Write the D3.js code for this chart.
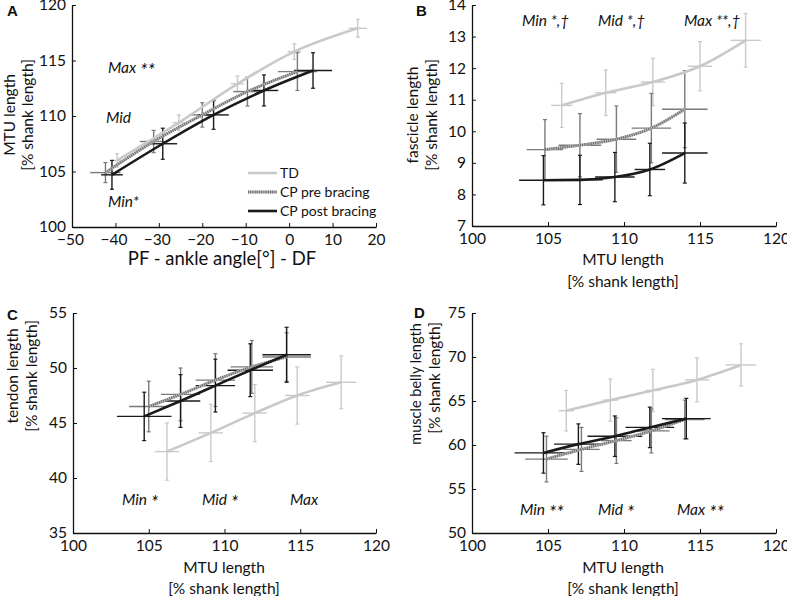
<!DOCTYPE html>
<html><head><meta charset="utf-8">
<script src="https://cdn.jsdelivr.net/npm/d3@7"></script>
<style>
body{margin:0;background:#fff}
svg{display:block}
text{font-family:Lato,"Open Sans",sans-serif;fill:#111}
</style>
</head><body>
<svg id="c" width="787" height="596"></svg>
<script>
// ---------- DATA ----------
const groups = ["TD", "CP pre bracing", "CP post bracing"];

// Panel A: x = ankle angle, y = MTU length
const A_TD_x = [-39.6, -25.4, -11.9, 1.2, 15.8];
const A_TD_y = [106.0, 109.4, 112.9, 115.8, 117.9];
const A_TD_xe = [1.2, 1.4, 1.5, 1.6, 2.1];
const A_TD_ye = [0.6, 0.7, 0.7, 0.7, 0.8];
const A_PRE_x = [-42.3, -31.2, -20.0, -9.6, 1.9];
const A_PRE_y = [104.9, 107.7, 110.1, 112.2, 114.0];
const A_PRE_xe = [3.5, 3.2, 3.0, 3.3, 4.5];
const A_PRE_ye = [0.9, 1.0, 1.1, 1.3, 1.7];
const A_POST_x = [-40.8, -29.1, -17.4, -5.8, 5.5];
const A_POST_y = [104.7, 107.5, 110.1, 112.3, 114.1];
const A_POST_xe = [2.5, 3.3, 3.5, 3.3, 4.4];
const A_POST_ye = [1.3, 1.4, 1.3, 1.4, 1.6];

// Panel B: fascicle length
const B_TD_x = [105.9, 108.8, 111.9, 115.0, 118.0];
const B_TD_y = [10.82, 11.22, 11.56, 12.06, 12.88];
const B_TD_xe = [0.7, 0.7, 0.8, 0.8, 1.0];
const B_TD_ye = [0.70, 0.72, 0.75, 0.78, 0.85];
const B_PRE_x = [104.8, 107.1, 109.5, 111.8, 114.0];
const B_PRE_y = [9.42, 9.56, 9.75, 10.10, 10.70];
const B_PRE_xe = [1.2, 1.4, 1.3, 1.3, 1.5];
const B_PRE_ye = [0.95, 1.00, 1.05, 1.10, 1.22];
const B_POST_x = [104.7, 107.1, 109.4, 111.7, 114.0];
const B_POST_y = [8.45, 8.46, 8.55, 8.79, 9.31];
const B_POST_xe = [1.6, 1.5, 1.3, 1.0, 1.5];
const B_POST_ye = [0.78, 0.78, 0.78, 0.83, 0.95];

// Panel C: tendon length
const C_TD_x = [106.2, 109.1, 112.0, 114.8, 117.7];
const C_TD_y = [42.4, 44.1, 45.9, 47.5, 48.7];
const C_TD_xe = [0.8, 0.8, 0.8, 0.8, 1.0];
const C_TD_ye = [2.6, 2.6, 2.6, 2.6, 2.4];
const C_PRE_x = [105.0, 107.1, 109.4, 111.8, 114.1];
const C_PRE_y = [46.5, 47.6, 48.9, 50.1, 51.0];
const C_PRE_xe = [1.3, 1.3, 1.3, 1.4, 1.6];
const C_PRE_ye = [2.3, 2.4, 2.4, 2.4, 2.2];
const C_POST_x = [104.7, 107.1, 109.4, 111.7, 114.1];
const C_POST_y = [45.6, 47.0, 48.4, 49.8, 51.2];
const C_POST_xe = [1.8, 1.3, 1.3, 1.5, 1.6];
const C_POST_ye = [2.2, 2.4, 2.4, 2.4, 2.5];

// Panel D: muscle belly length
const D_TD_x = [106.2, 109.1, 111.9, 114.8, 117.7];
const D_TD_y = [63.9, 65.1, 66.2, 67.4, 69.1];
const D_TD_xe = [0.5, 0.5, 0.5, 0.8, 1.0];
const D_TD_ye = [2.3, 2.4, 2.4, 2.5, 2.4];
const D_PRE_x = [104.9, 107.2, 109.5, 111.8, 114.0];
const D_PRE_y = [58.4, 59.5, 60.5, 61.6, 62.9];
const D_PRE_xe = [1.4, 1.2, 1.0, 1.2, 1.3];
const D_PRE_ye = [2.6, 2.5, 2.6, 2.5, 2.2];
const D_POST_x = [104.7, 107.0, 109.4, 111.7, 114.1];
const D_POST_y = [59.1, 60.1, 61.0, 62.0, 63.0];
const D_POST_xe = [1.9, 1.6, 1.8, 1.6, 1.6];
const D_POST_ye = [2.3, 2.3, 2.3, 2.3, 2.3];

// Tick labels
const A_xticks = [-50, -40, -30, -20, -10, 0, 10, 20];
const A_yticks = [100, 105, 110, 115, 120];
const B_yticks = [7, 8, 9, 10, 11, 12, 13, 14];
const C_yticks = [35, 40, 45, 50, 55];
const D_yticks = [50, 55, 60, 65, 70, 75];
const MTU_xticks = [100, 105, 110, 115, 120];

// Significance annotations
const A_notes = ["Max **", "Mid", "Min*"];
const B_notes = ["Min *,\u2020", "Mid *,\u2020", "Max **,\u2020"];
const C_notes = ["Min *", "Mid *", "Max"];
const D_notes = ["Min **", "Mid *", "Max **"];

// ---------- DRAW ----------
const svg = d3.select("#c");
const COL = {TD: "#c9c9c9", PRE: "#7a7a7a", POST: "#1a1a1a"};

function zip(x, y, xe, ye){ return x.map((v,i)=>({x:v, y:y[i], xe:xe[i], ye:ye[i]})); }

function panel(cfg){
  const g = svg.append("g");
  const xs = d3.scaleLinear().domain(cfg.xdom).range([cfg.left, cfg.right]);
  const ys = d3.scaleLinear().domain(cfg.ydom).range([cfg.bottom, cfg.top]);

  const xa = d3.axisBottom(xs).tickValues(cfg.xticks).tickFormat(d3.format("d")).tickSizeInner(-4).tickSizeOuter(0).tickPadding(6);
  const ya = d3.axisLeft(ys).tickValues(cfg.yticks).tickFormat(d3.format("d")).tickSizeInner(-4).tickSizeOuter(0).tickPadding(6);
  const gx = g.append("g").attr("transform", `translate(0,${cfg.bottom})`).call(xa);
  const gy = g.append("g").attr("transform", `translate(${cfg.left},0)`).call(ya);
  [gx, gy].forEach(a=>{
    a.select(".domain").attr("stroke", "#111").attr("stroke-width", 1.3);
    a.selectAll(".tick line").attr("stroke", "#111").attr("stroke-width", 1);
    a.selectAll(".tick text").style("font-family","Lato,'Open Sans',sans-serif").style("font-size","15.5px").attr("fill","#111");
  });
  gx.selectAll(".tick text").attr("dy","0.78em");
  gx.selectAll(".tick text").attr("x", d => d < 0 ? -2 : 0);

  const series = [
    {key:"TD", data: cfg.td},
    {key:"PRE", data: cfg.pre},
    {key:"POST", data: cfg.post}
  ];
  const line = d3.line().x(d=>xs(d.x)).y(d=>ys(d.y)).curve(d3.curveMonotoneX);
  series.forEach(s=>{
    const eg = g.append("g");
    const col = COL[s.key];
    const ew = 1.4;
    s.data.forEach(d=>{
      eg.append("line").attr("x1", xs(d.x-d.xe)).attr("x2", xs(d.x+d.xe))
        .attr("y1", ys(d.y)).attr("y2", ys(d.y)).attr("stroke", col).attr("stroke-width", ew);
      eg.append("line").attr("x1", xs(d.x)).attr("x2", xs(d.x))
        .attr("y1", ys(d.y-d.ye)).attr("y2", ys(d.y+d.ye)).attr("stroke", col).attr("stroke-width", ew);
      [d.y-d.ye, d.y+d.ye].forEach(v=>{
        eg.append("line").attr("x1", xs(d.x)-2).attr("x2", xs(d.x)+2)
          .attr("y1", ys(v)).attr("y2", ys(v)).attr("stroke", col).attr("stroke-width", 1.2);
      });
    });
  });
  series.forEach(s=>{
    if (s.key==="TD") {
      g.append("path").datum(s.data).attr("d", line).attr("fill","none").attr("stroke", COL.TD).attr("stroke-width", 2.6);
    } else if (s.key==="PRE") {
      g.append("path").datum(s.data).attr("d", line).attr("fill","none").attr("stroke", "#b8b8b8").attr("stroke-width", 2.8);
      g.append("path").datum(s.data).attr("d", line).attr("fill","none").attr("stroke", "#6a6a6a").attr("stroke-width", 2.8).attr("stroke-dasharray","1,1.2");
    } else {
      g.append("path").datum(s.data).attr("d", line).attr("fill","none").attr("stroke", COL.POST).attr("stroke-width", 2.6);
    }
  });

  g.append("text").attr("x", cfg.letterX).attr("y", cfg.letterY).text(cfg.letter)
    .style("font-family","Arial,'Liberation Sans',sans-serif").style("font-weight","bold").style("font-size","15px");

  cfg.ylabel.forEach((t,i)=>{
    g.append("text").attr("transform", `translate(${cfg.ylabX[i]},${cfg.ylabY[i]}) rotate(-90)`)
      .attr("text-anchor","middle").style("font-size", cfg.ylabSize[i]).text(t);
  });
  cfg.xlabel.forEach((t,i)=>{
    g.append("text").attr("x", cfg.xlabX).attr("y", cfg.xlabY[i]).attr("text-anchor","middle")
      .style("font-size", cfg.xlabSize).text(t);
  });
  cfg.notes.forEach((t,i)=>{
    const tx = g.append("text").attr("x", cfg.noteX[i]).attr("y", cfg.noteY[i]).style("font-style","italic")
      .style("font-size","15.5px");
    const m = t.match(/^(\S+)(\s*)(.*)$/);
    tx.append("tspan").text(m[1] + m[2]);
    if (m[3]) {
      if (cfg.bigStars) {
        tx.append("tspan").style("font-size","19px").attr("dy","4").text(m[3]);
      } else {
        tx.append("tspan").text(m[3]);
      }
    }
  });
  return {g, xs, ys};
}

panel({
  letter:"A", letterX:7, letterY:16,
  left:72, right:376, top:5, bottom:227,
  xdom:[-50,20], ydom:[100,120], xticks:A_xticks, yticks:A_yticks,
  td: zip(A_TD_x,A_TD_y,A_TD_xe,A_TD_ye), pre: zip(A_PRE_x,A_PRE_y,A_PRE_xe,A_PRE_ye), post: zip(A_POST_x,A_POST_y,A_POST_xe,A_POST_ye),
  ylabel:["MTU length","[% shank length]"], ylabX:[15,33], ylabY:[115,115], ylabSize:["15.5px","15.5px"],
  xlabel:["PF - ankle angle[\u00b0] - DF"], xlabX:222, xlabY:[265], xlabSize:"18.5px",
  notes:A_notes, noteX:[108,106,108], noteY:[73,123,207], bigStars:true
});
panel({
  letter:"B", letterX:416, letterY:16,
  left:472, right:776, top:5, bottom:226,
  xdom:[100,120], ydom:[7,14], xticks:MTU_xticks, yticks:B_yticks,
  td: zip(B_TD_x,B_TD_y,B_TD_xe,B_TD_ye), pre: zip(B_PRE_x,B_PRE_y,B_PRE_xe,B_PRE_ye), post: zip(B_POST_x,B_POST_y,B_POST_xe,B_POST_ye),
  ylabel:["fascicle length","[% shank length]"], ylabX:[418,437], ylabY:[115,115], ylabSize:["15.5px","15.5px"],
  xlabel:["MTU length","[% shank length]"], xlabX:623, xlabY:[265,287], xlabSize:"15.5px",
  notes:B_notes, noteX:[522,598,684], noteY:[26,26,26], bigStars:false
});
panel({
  letter:"C", letterX:7, letterY:320,
  left:73, right:376, top:313, bottom:533,
  xdom:[100,120], ydom:[35,55], xticks:MTU_xticks, yticks:C_yticks,
  td: zip(C_TD_x,C_TD_y,C_TD_xe,C_TD_ye), pre: zip(C_PRE_x,C_PRE_y,C_PRE_xe,C_PRE_ye), post: zip(C_POST_x,C_POST_y,C_POST_xe,C_POST_ye),
  ylabel:["tendon length","[% shank length]"], ylabX:[18,37], ylabY:[376,376], ylabSize:["15.5px","15.5px"],
  xlabel:["MTU length","[% shank length]"], xlabX:224, xlabY:[573,594], xlabSize:"15.5px",
  notes:C_notes, noteX:[122,202,290], noteY:[505,505,505], bigStars:true
});
panel({
  letter:"D", letterX:414, letterY:318,
  left:472, right:776, top:313, bottom:533,
  xdom:[100,120], ydom:[50,75], xticks:MTU_xticks, yticks:D_yticks,
  td: zip(D_TD_x,D_TD_y,D_TD_xe,D_TD_ye), pre: zip(D_PRE_x,D_PRE_y,D_PRE_xe,D_PRE_ye), post: zip(D_POST_x,D_POST_y,D_POST_xe,D_POST_ye),
  ylabel:["muscle belly length","[% shank length]"], ylabX:[421,440], ylabY:[384,378], ylabSize:["14.5px","15.5px"],
  xlabel:["MTU length","[% shank length]"], xlabX:623, xlabY:[573,594], xlabSize:"15.5px",
  notes:D_notes, noteX:[520,598,677], noteY:[515,515,515], bigStars:true
});

// legend in panel A
const lg = svg.append("g");
const legY = [173, 192, 211];
groups.forEach((name,i)=>{
  const y = legY[i];
  if (i===0) lg.append("line").attr("x1",248).attr("x2",277).attr("y1",y).attr("y2",y).attr("stroke",COL.TD).attr("stroke-width",2.6);
  if (i===1) {
    lg.append("line").attr("x1",248).attr("x2",277).attr("y1",y).attr("y2",y).attr("stroke","#b8b8b8").attr("stroke-width",2.8);
    lg.append("line").attr("x1",248).attr("x2",277).attr("y1",y).attr("y2",y).attr("stroke","#6a6a6a").attr("stroke-width",2.8).attr("stroke-dasharray","1,1.2");
  }
  if (i===2) lg.append("line").attr("x1",248).attr("x2",277).attr("y1",y).attr("y2",y).attr("stroke",COL.POST).attr("stroke-width",2.6);
  lg.append("text").attr("x",280).attr("y",y+5).style("font-size","14px").text(name);
});
</script>
</body></html>
